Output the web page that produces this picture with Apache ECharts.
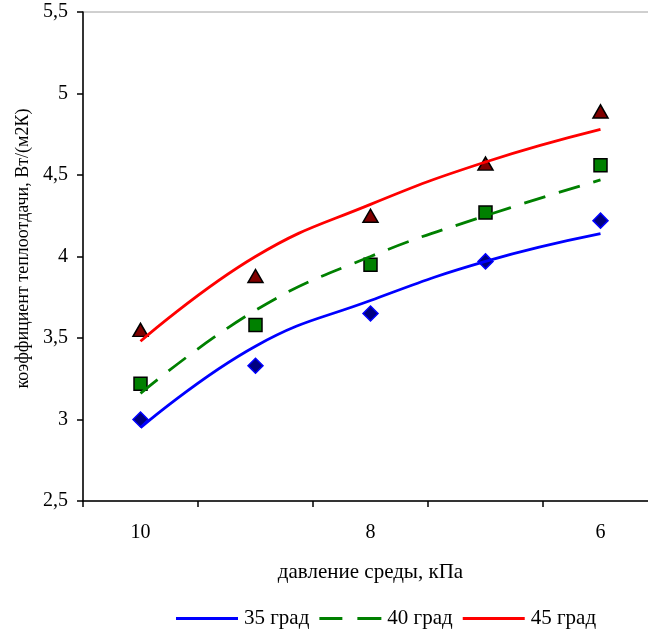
<!DOCTYPE html>
<html>
<head>
<meta charset="utf-8">
<script src="https://cdn.jsdelivr.net/npm/echarts@6/dist/echarts.min.js"></script>
<style>
html,body{margin:0;padding:0;background:#fff;}
#chart{width:648px;height:629px;}
</style>
</head>
<body>
<div id="chart"></div>
<script>
var categories = ['10', '9', '8', '7', '6'];
var yTicks = { min: 2.5, max: 5.5, step: 0.5 };

var seriesNames = ['35 град', '40 град', '45 град'];
var points35 = [3.00, 3.33, 3.65, 3.97, 4.22];
var points40 = [3.22, 3.58, 3.95, 4.27, 4.56];
var points45 = [3.55, 3.88, 4.25, 4.57, 4.89];
var trend35 = [2.95, 3.45, 3.73, 3.97, 4.14];
var trend40 = [3.16, 3.67, 4.00, 4.25, 4.47];
var trend45 = [3.48, 4.00, 4.32, 4.58, 4.78];

var FONT = 'Liberation Serif';
var chart = echarts.init(document.getElementById('chart'));

var option = {
  animation: false,
  backgroundColor: '#fff',
  grid: {
    left: 83, top: 12, width: 575, height: 489,
    outerBoundsMode: 'none', containLabel: false,
    show: true, borderColor: '#a0a0a0', borderWidth: 1, backgroundColor: 'transparent'
  },
  legend: {
    data: [
      { name: seriesNames[0], icon: 'rect', itemStyle: { color: '#0000ff' } },
      { name: seriesNames[1], icon: 'path://M0,0H23V3H0ZM38,0H62V3H38Z', itemStyle: { color: '#008000' } },
      { name: seriesNames[2], icon: 'rect', itemStyle: { color: '#ff0000' } }
    ],
    left: 171, top: 603,
    itemWidth: 62, itemHeight: 3, itemGap: 10,
    textStyle: { fontFamily: FONT, fontSize: 21, color: '#000', padding: [0, 0, 0, 1] }
  },
  xAxis: {
    type: 'category',
    data: categories,
    boundaryGap: true,
    name: 'давление среды, кПа',
    nameLocation: 'middle',
    nameGap: 61,
    nameTextStyle: { fontFamily: FONT, fontSize: 21, color: '#000' },
    axisLine: { lineStyle: { color: '#000', width: 1.5 } },
    axisTick: { show: true, interval: 0, length: 6, inside: false, lineStyle: { color: '#000', width: 1.5 } },
    axisLabel: { interval: 1, margin: 22, fontFamily: FONT, fontSize: 20, color: '#000' },
    splitLine: { show: false }
  },
  yAxis: {
    type: 'value',
    min: yTicks.min, max: yTicks.max, interval: yTicks.step,
    name: 'коэффициент теплоотдачи, Вт/(м2К)',
    nameLocation: 'middle',
    nameRotate: 90,
    nameGap: 50,
    nameTextStyle: { fontFamily: FONT, fontSize: 18, color: '#000', padding: [0, 0, 0, 16] },
    axisLine: { show: true, lineStyle: { color: '#000', width: 1.5 } },
    axisTick: { show: true, length: 6, lineStyle: { color: '#000', width: 1.5 } },
    axisLabel: {
      margin: 15, fontFamily: FONT, fontSize: 20, color: '#000',
      formatter: function (v) { return String(v).replace('.', ','); }
    },
    splitLine: { show: false }
  },
  series: [
    {
      name: 'p35', type: 'scatter', data: points35, symbol: 'diamond', symbolSize: 15,
      itemStyle: { color: '#000080', borderColor: '#0000ff', borderWidth: 1.5, opacity: 1 }, z: 2
    },
    {
      name: 'p40', type: 'scatter', data: points40, symbol: 'rect', symbolSize: 13,
      itemStyle: { color: '#008000', borderColor: '#000', borderWidth: 1.5, opacity: 1 }, z: 2
    },
    {
      name: 'p45', type: 'scatter', data: points45, symbol: 'triangle', symbolSize: [15, 13],
      itemStyle: { color: '#800000', borderColor: '#000', borderWidth: 1.5, opacity: 1 }, z: 2
    },
    {
      name: seriesNames[0], type: 'line', data: trend35, smooth: 0.45, symbol: 'none',
      lineStyle: { color: '#0000ff', width: 2.8 }, itemStyle: { color: '#0000ff' }, z: 3
    },
    {
      name: seriesNames[1], type: 'line', data: trend40, smooth: 0.45, symbol: 'none',
      lineStyle: { color: '#008000', width: 2.8, type: [22, 14] }, itemStyle: { color: '#008000' }, z: 3
    },
    {
      name: seriesNames[2], type: 'line', data: trend45, smooth: 0.45, symbol: 'none',
      lineStyle: { color: '#ff0000', width: 2.8 }, itemStyle: { color: '#ff0000' }, z: 3
    }
  ]
};
chart.setOption(option);
</script>
</body>
</html>
